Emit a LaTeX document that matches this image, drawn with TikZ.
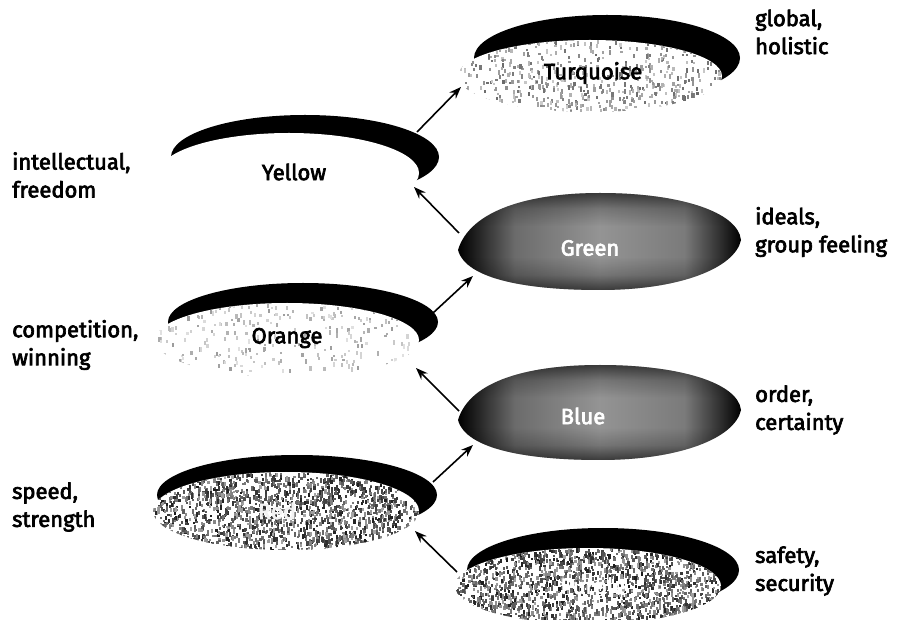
\documentclass[tikz,border=0pt]{standalone}
\usepackage{fontspec}
\setmainfont{Fira Sans}[FakeBold=3]
\usetikzlibrary{arrows.meta}
\pgfdeclarehorizontalshading{hpill}{100bp}{color(0bp)=(black); color(25bp)=(black); color(28bp)=(black!88); color(35bp)=(black!58); color(50bp)=(black!42); color(65bp)=(black!52); color(71bp)=(black!80); color(75bp)=(black); color(100bp)=(black)}
\pgfdeclareverticalshading{vpill}{100bp}{color(0bp)=(black!60); color(25bp)=(black!60); color(33bp)=(black!20); color(42bp)=(white); color(58bp)=(white); color(67bp)=(black!20); color(75bp)=(black!60); color(100bp)=(black!60)}
\pgfmathsetseed{7}
% #1 cx, #2 cy, #3 rx, #4 ry, #5 count, #6 min gray, #7 max gray
\newcommand\myspecks[7]{%
  \begin{scope}
    \clip (#1,#2) ellipse [x radius=#3, y radius=#4];
    \foreach \i in {1,...,#5}{%
      \pgfmathsetmacro\px{#1+#3*rand}%
      \pgfmathsetmacro\py{#2+#4*rand}%
      \pgfmathsetmacro\g{int(#6+(#7-#6)*rnd)}%
      \pgfmathsetmacro\h{2+3*rnd}%
      \fill[black!\g] (\px,\py) rectangle +(2.2,\h);
    }
  \end{scope}}
\newcommand\greenpath{(458,250) .. controls (470,210) and (530,193) .. (600,193)
   .. controls (680,193) and (738,212) .. (741,240)
   .. controls (735,268) and (680,290) .. (600,290)
   .. controls (530,290) and (466,280) .. (458,250) -- cycle}
\newcommand\bluepath{(458,420) .. controls (470,380) and (530,365) .. (600,365)
   .. controls (680,365) and (738,383) .. (741,410)
   .. controls (735,438) and (680,460) .. (600,460)
   .. controls (530,460) and (466,450) .. (458,420) -- cycle}
\begin{document}
\begin{tikzpicture}[x=1pt,y=-1pt,
  lbl/.style={font=\fontsize{22}{28}\selectfont, align=left, anchor=west, inner sep=0pt},
  disc/.style={font=\fontsize{22}{28}\selectfont, inner sep=0pt},
  conn/.style={line width=1.6pt, -{Stealth[length=12pt,width=9pt]}},
  crescent/.style={fill=black}]
\useasboundingbox[fill=white] (0,0) rectangle (898,620);

% Turquoise
\fill[crescent] (607,58) ellipse [x radius=133, y radius=43];
\fill[white] (590,76) ellipse [x radius=132, y radius=36];
\myspecks{590}{76}{132}{36}{600}{20}{60}
\node[disc] (turq) at (593,73) {Turquoise};

% Yellow
\fill[crescent] (305,157) ellipse [x radius=134, y radius=42];
\fill[white] (289,173) ellipse [x radius=130, y radius=40];
\node[disc] (yellow) at (294,172) {Yellow};

% Green
\shade[shading=hpill] \greenpath;
\shade[shading=vpill, blend mode=multiply] \greenpath;
\node[disc, text=white] (green) at (590,248) {Green};

% Orange
\fill[crescent] (303,322) ellipse [x radius=135, y radius=39];
\fill[white] (287,340) ellipse [x radius=132, y radius=37];
\myspecks{287}{340}{132}{37}{300}{12}{40}
\node[disc] (orange) at (287,338) {Orange};

% Blue
\shade[shading=hpill] \bluepath;
\shade[shading=vpill, blend mode=multiply] \bluepath;
\node[disc, text=white] (blue) at (583,416) {Blue};

% Red
\fill[crescent] (297,495) ellipse [x radius=140, y radius=40];
\fill[white] (286,511) ellipse [x radius=133, y radius=39];
\myspecks{286}{511}{133}{39}{1800}{35}{90}
\node[disc, text=black!5] (red) at (277,511) {Red};

% Purple
\fill[crescent] (603,570) ellipse [x radius=136, y radius=42];
\fill[white] (588,586) ellipse [x radius=133, y radius=38];
\myspecks{588}{586}{133}{38}{1800}{35}{90}
\node[disc, text=white] (purple) at (593,588) {Purple};

% side labels
\node[lbl] (l1) at (12,175) {intellectual,\\freedom};
\node[lbl] (l2) at (12,345) {competition,\\winning};
\node[lbl] (l3) at (12,507) {speed,\\strength};
\node[lbl] (r1) at (755,32) {global,\\holistic};
\node[lbl] (r2) at (755,232) {ideals,\\group feeling};
\node[lbl] (r3) at (755,410) {order,\\certainty};
\node[lbl] (r4) at (755,571) {safety,\\security};

% connectors
\coordinate (a1s) at (417,132); \coordinate (a1e) at (461,87);
\coordinate (a2s) at (459,233); \coordinate (a2e) at (414,187);
\coordinate (a3s) at (433,313); \coordinate (a3e) at (473,276);
\coordinate (a4s) at (459,411); \coordinate (a4e) at (416,368);
\coordinate (a5s) at (433,482); \coordinate (a5e) at (473,445);
\coordinate (a6s) at (457,572); \coordinate (a6e) at (415,531);
\draw[conn] (a1s) -- (a1e);
\draw[conn] (a2s) -- (a2e);
\draw[conn] (a3s) -- (a3e);
\draw[conn] (a4s) -- (a4e);
\draw[conn] (a5s) -- (a5e);
\draw[conn] (a6s) -- (a6e);
\end{tikzpicture}
\end{document}
